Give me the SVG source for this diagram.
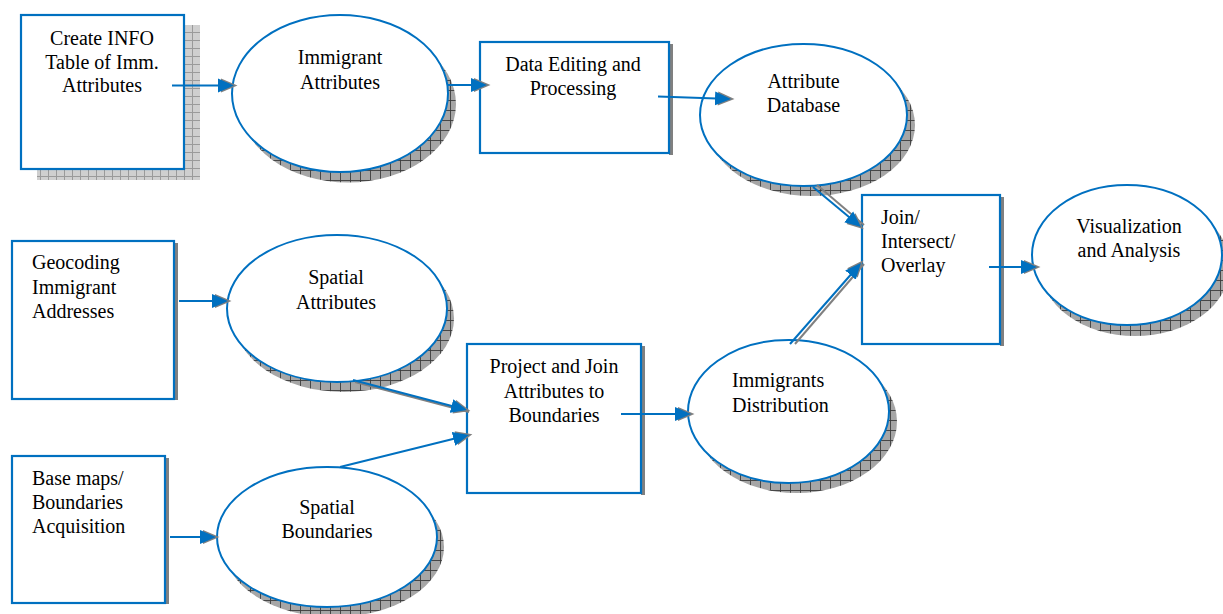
<svg xmlns="http://www.w3.org/2000/svg" width="1223" height="614" viewBox="0 0 1223 614">
<defs>
<pattern id="gridLight" width="8" height="8" patternUnits="userSpaceOnUse">
<rect width="8" height="8" fill="#cfcfcf"/>
<path d="M0,0.5H8M0.5,0V8" stroke="#9a9a9a" stroke-width="1"/>
</pattern>
<pattern id="gridDark" width="10" height="10" patternUnits="userSpaceOnUse">
<rect width="10" height="10" fill="#a6a6a6"/>
<path d="M0,0.5H10M0.5,0V10" stroke="#3c3c3c" stroke-width="0.9"/>
</pattern>
<marker id="arr" viewBox="0 0 20 16" refX="16" refY="8" markerWidth="20" markerHeight="16" markerUnits="userSpaceOnUse" orient="auto">
<path d="M3,1 L19.5,8 L3,15 z" fill="#808080"/>
<path d="M0,1 L16,8 L0,15 z" fill="#0070c0"/>
</marker>
</defs>
<style>
.box{fill:#fff;stroke:#0070c0;stroke-width:2.2}
.ell{fill:#fff;stroke:#0070c0;stroke-width:2}
.eshadow{fill:url(#gridDark)}
.rshadow{fill:#808080}
.t{font-family:"Liberation Serif","Times New Roman",serif;font-size:20px;fill:#000}
.c{text-anchor:middle}
.con{stroke:#0070c0;stroke-width:2;fill:none}
.con2{stroke:#808080;stroke-width:2;fill:none}
</style>

<g id="node-create-info">
<rect x="37" y="25" width="163" height="155" fill="url(#gridLight)"/>
<rect class="box" x="21" y="15" width="163" height="154"/>
<text class="t c" x="102" y="45">Create INFO</text>
<text class="t c" x="102" y="68.5">Table of Imm.</text>
<text class="t c" x="102" y="92">Attributes</text>
</g>

<g id="node-immigrant-attributes">
<ellipse class="eshadow" cx="348" cy="104" rx="108" ry="78.5"/>
<ellipse class="ell" cx="340" cy="93.5" rx="108" ry="78.5"/>
<text class="t c" x="340" y="64">Immigrant</text>
<text class="t c" x="340" y="89">Attributes</text>
</g>

<g id="node-data-editing">
<rect class="rshadow" x="669" y="44" width="4" height="111"/>
<rect class="box" x="480" y="42" width="189" height="111"/>
<text class="t c" x="573" y="71">Data Editing and</text>
<text class="t c" x="573" y="95">Processing</text>
</g>

<g id="node-attribute-database">
<ellipse class="eshadow" cx="811.5" cy="125" rx="103.5" ry="71"/>
<ellipse class="ell" cx="803.5" cy="115" rx="103.5" ry="71"/>
<text class="t c" x="803.5" y="88">Attribute</text>
<text class="t c" x="803.5" y="112">Database</text>
</g>

<g id="node-join">
<rect class="rshadow" x="1000" y="197" width="4" height="149"/>
<rect class="box" x="862" y="195" width="138" height="149"/>
<text class="t" x="881" y="224">Join/</text>
<text class="t" x="881" y="248">Intersect/</text>
<text class="t" x="881" y="272">Overlay</text>
</g>

<g id="node-visualization">
<ellipse class="eshadow" cx="1135" cy="266" rx="95" ry="70"/>
<ellipse class="ell" cx="1127" cy="255" rx="95" ry="70"/>
<text class="t c" x="1129" y="233">Visualization</text>
<text class="t c" x="1129" y="257">and Analysis</text>
</g>

<g id="node-geocoding">
<rect class="rshadow" x="174" y="243" width="4" height="157"/>
<rect class="box" x="12" y="241" width="162" height="158"/>
<text class="t" x="32" y="269">Geocoding</text>
<text class="t" x="32" y="293.5">Immigrant</text>
<text class="t" x="32" y="318">Addresses</text>
</g>

<g id="node-spatial-attributes">
<ellipse class="eshadow" cx="344" cy="318.5" rx="110" ry="73.5"/>
<ellipse class="ell" cx="337" cy="308.5" rx="110" ry="73.5"/>
<text class="t c" x="336" y="284">Spatial</text>
<text class="t c" x="336" y="309">Attributes</text>
</g>

<g id="node-base-maps">
<rect class="rshadow" x="165" y="458" width="4" height="146"/>
<rect class="box" x="12" y="456" width="153" height="147"/>
<text class="t" x="32" y="485">Base maps/</text>
<text class="t" x="32" y="508.5">Boundaries</text>
<text class="t" x="32" y="532.5">Acquisition</text>
</g>

<g id="node-spatial-boundaries">
<ellipse class="eshadow" cx="334" cy="547" rx="110" ry="70"/>
<ellipse class="ell" cx="327" cy="537" rx="110" ry="70"/>
<text class="t c" x="327" y="514">Spatial</text>
<text class="t c" x="327" y="538">Boundaries</text>
</g>

<g id="node-project-join">
<rect class="rshadow" x="641" y="346" width="4" height="149"/>
<rect class="box" x="467" y="344" width="174" height="149"/>
<text class="t c" x="554" y="373">Project and Join</text>
<text class="t c" x="554" y="397.5">Attributes to</text>
<text class="t c" x="554" y="421.5">Boundaries</text>
</g>

<g id="node-immigrants-distribution">
<ellipse class="eshadow" cx="796.5" cy="421.5" rx="100.5" ry="71.5"/>
<ellipse class="ell" cx="788.5" cy="411.5" rx="100.5" ry="71.5"/>
<text class="t" x="732" y="387">Immigrants</text>
<text class="t" x="732" y="412">Distribution</text>
</g>

<g id="connectors">
<line class="con" x1="172" y1="85.5" x2="234" y2="85.5" marker-end="url(#arr)"/>
<line class="con" x1="448" y1="85" x2="487" y2="85" marker-end="url(#arr)"/>
<line class="con" x1="658" y1="96.5" x2="731" y2="99" marker-end="url(#arr)"/>
<line class="con2" x1="817" y1="185" x2="864" y2="225"/>
<line class="con" x1="813" y1="187" x2="861" y2="227" marker-end="url(#arr)"/>
<line class="con2" x1="795" y1="344" x2="864" y2="264"/>
<line class="con" x1="790" y1="344" x2="861" y2="263" marker-end="url(#arr)"/>
<line class="con" x1="989" y1="267" x2="1037" y2="267" marker-end="url(#arr)"/>
<line class="con" x1="179" y1="301" x2="228" y2="301" marker-end="url(#arr)"/>
<line class="con2" x1="355" y1="382" x2="469" y2="412"/>
<line class="con" x1="353" y1="380" x2="467" y2="410" marker-end="url(#arr)"/>
<line class="con" x1="340" y1="467" x2="469" y2="435" marker-end="url(#arr)"/>
<line class="con" x1="170" y1="537" x2="216" y2="537" marker-end="url(#arr)"/>
<line class="con" x1="621" y1="414" x2="691" y2="414" marker-end="url(#arr)"/>
</g>
</svg>
